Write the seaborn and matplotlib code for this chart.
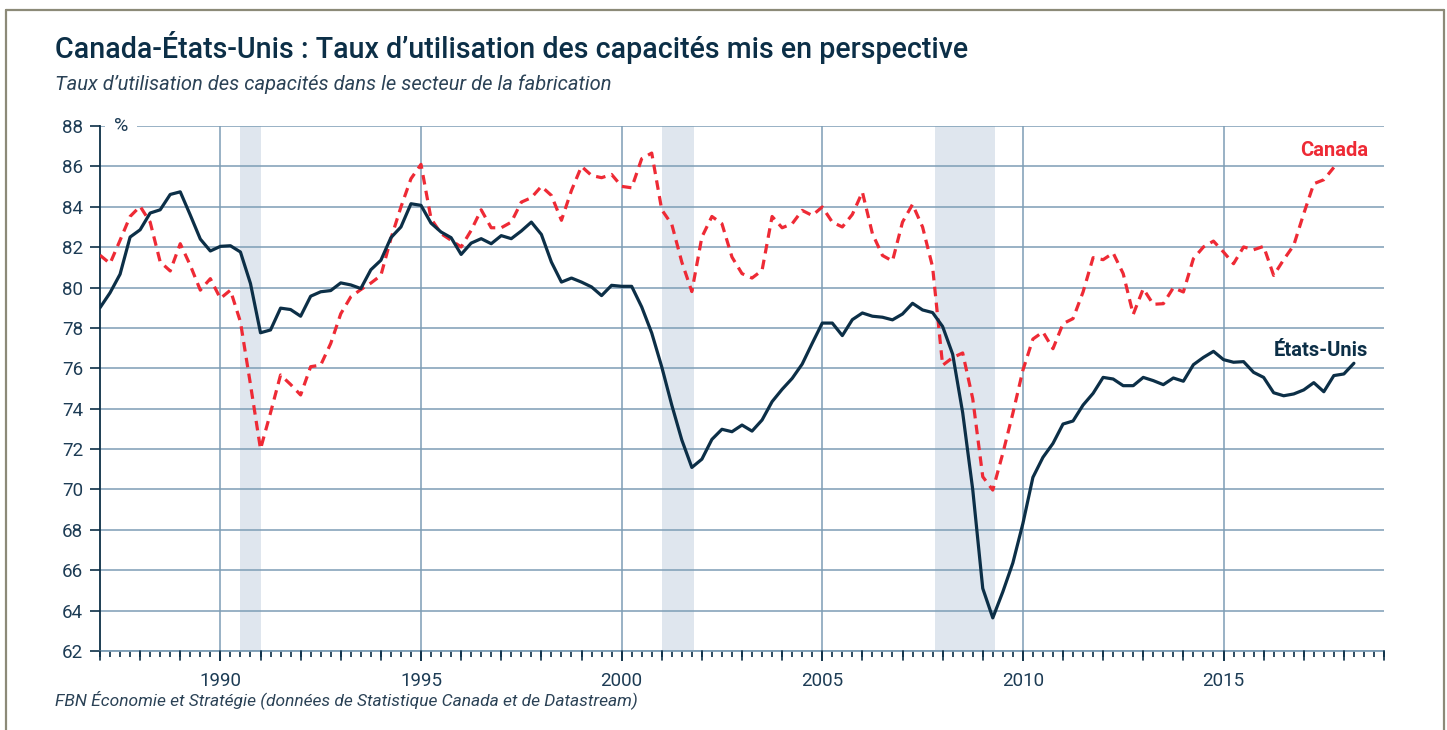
import numpy as np
import pandas as pd
import seaborn as sns
import matplotlib.pyplot as plt

# Quarterly data, first quarter 1987
start_year = 1987
us_values = [79.0, 79.74, 80.66, 82.5, 82.86, 83.69, 83.85, 84.61, 84.74, 83.59,
             82.4, 81.81, 82.04, 82.07, 81.76, 80.2, 77.76, 77.9, 78.98, 78.91,
             78.58, 79.57, 79.79, 79.85, 80.23, 80.13, 79.95, 80.88, 81.35, 82.47,
             83.0, 84.15, 84.07, 83.19, 82.75, 82.47, 81.64, 82.2, 82.42, 82.17,
             82.57, 82.42, 82.8, 83.24, 82.63, 81.26, 80.27, 80.47, 80.27, 80.03,
             79.6, 80.11, 80.06, 80.06, 79.04, 77.75, 76.07, 74.18, 72.45, 71.09,
             71.5, 72.48, 72.98, 72.86, 73.19, 72.89, 73.44, 74.35, 74.96, 75.5,
             76.21, 77.24, 78.24, 78.24, 77.62, 78.41, 78.74, 78.58, 78.53, 78.4,
             78.69, 79.22, 78.89, 78.76, 78.07, 76.7, 73.8, 70.0, 65.1, 63.64,
             64.93, 66.36, 68.31, 70.6, 71.59, 72.28, 73.24, 73.39, 74.18, 74.76,
             75.55, 75.47, 75.14, 75.14, 75.55, 75.39, 75.19, 75.52, 75.36, 76.18,
             76.54, 76.84, 76.43, 76.3, 76.33, 75.8, 75.55, 74.79, 74.64, 74.73,
             74.93, 75.29, 74.84, 75.64, 75.72, 76.25]
canada_values = [81.6, 81.19, 82.34, 83.52, 84.02, 83.24, 81.27, 80.82, 82.17, 81.1,
                 79.87, 80.44, 79.46, 79.87, 78.3, 75.2, 72.0, 73.8, 75.67, 75.2,
                 74.68, 76.08, 76.16, 77.23, 78.7, 79.54, 79.9, 80.22, 80.6, 82.42,
                 83.99, 85.39, 86.1, 83.41, 82.67, 82.34, 82.01, 82.83, 83.85, 82.96,
                 82.96, 83.24, 84.23, 84.45, 85.01, 84.56, 83.33, 84.81, 86.0, 85.55,
                 85.44, 85.6, 85.01, 84.94, 86.38, 86.66, 83.85, 83.13, 81.26, 79.8,
                 82.5, 83.52, 83.16, 81.51, 80.69, 80.47, 80.85, 83.52, 82.96, 83.16,
                 83.82, 83.57, 83.99, 83.24, 83.0, 83.62, 84.73, 82.67, 81.59, 81.31,
                 83.24, 84.12, 83.0, 81.02, 76.15, 76.53, 76.76, 74.5, 70.63, 69.97,
                 71.79, 73.77, 75.9, 77.45, 77.8, 76.97, 78.21, 78.46, 79.78, 81.48,
                 81.38, 81.71, 80.69, 78.67, 79.94, 79.17, 79.2, 79.99, 79.78, 81.43,
                 82.01, 82.3, 81.76, 81.18, 82.01, 81.87, 82.04, 80.6, 81.38, 82.09,
                 83.66, 85.14, 85.34, 85.95]
recessions = [(1990.5, 1991.0), (2001.0, 2001.8), (2007.8, 2009.3)]
y_ticks = list(range(62, 89, 2))
x_labels = [1990, 1995, 2000, 2005, 2010, 2015]

us = pd.DataFrame({"date": start_year + np.arange(len(us_values)) / 4, "rate": us_values})
ca = pd.DataFrame({"date": start_year + np.arange(len(canada_values)) / 4, "rate": canada_values})

navy = "#0c2f47"
red = "#ee2a35"
grid_col = "#7d9db5"
text_col = "#1d3c55"

sns.set_style("white")
plt.rcParams["font.family"] = ["Roboto", "DejaVu Sans"]

fig = plt.figure(figsize=(14.47, 7.3), dpi=100)
ax = fig.add_axes([100 / 1447, 79 / 730, 1284 / 1447, 525 / 730])

for a, b in recessions:
    ax.axvspan(a, b, color="#dfe6ee", lw=0, zorder=0)

sns.lineplot(data=ca, x="date", y="rate", ax=ax, color=red, lw=2.3,
             dashes=False, zorder=3).lines[-1].set_dashes([3.0, 2.0])
sns.lineplot(data=us, x="date", y="rate", ax=ax, color=navy, lw=2.3, zorder=4)

ax.set_xlim(1987, 2019)
ax.set_ylim(62, 88)
ax.set_yticks(y_ticks)
ax.set_xticks(x_labels)
ax.set_xlabel("")
ax.set_ylabel("")

ax.grid(axis="both", which="major", color=grid_col, lw=1.1)
ax.set_axisbelow(True)

for s in ["top", "right"]:
    ax.spines[s].set_visible(False)
ax.spines["left"].set_color(navy)
ax.spines["left"].set_linewidth(1.3)
ax.spines["bottom"].set_color(grid_col)
ax.spines["bottom"].set_linewidth(1.3)

ax.tick_params(axis="y", left=True, length=7, width=1.2, color=navy,
               labelsize=13.5, labelcolor=text_col, pad=5)
ax.tick_params(axis="x", which="major", bottom=True, length=7, width=1.2,
               color=navy, labelsize=13.5, labelcolor=text_col, pad=8)
# quarterly ticks, shorter
ax.set_xticks(np.arange(1987, 2019.01, 0.25), minor=True)
ax.tick_params(axis="x", which="minor", bottom=True, length=4, width=1.2, color=navy)
# year ticks drawn a bit longer
for yr in range(1987, 2020):
    ax.plot([yr, yr], [0, -0.018], transform=ax.get_xaxis_transform(),
            color=navy, lw=1.2, clip_on=False, zorder=5)

# "%" unit label sits in a gap of the top gridline (below the spine)
ax.text(0.011, 1.0, "%", transform=ax.transAxes, ha="left", va="center",
        fontsize=14, color=text_col, zorder=2,
        bbox=dict(facecolor="white", edgecolor="none", boxstyle="square,pad=0.45"))

ax.text(2018.6, 86.78, "Canada", color=red, fontsize=14.5, fontweight="bold",
        ha="right", va="center")
ax.text(2018.6, 76.86, "États-Unis", color=navy, fontsize=14.5, fontweight="bold",
        ha="right", va="center")

fig.text(55 / 1447, 1 - 58 / 730,
         "Canada-États-Unis : Taux d’utilisation des capacités mis en perspective",
         fontsize=20.6, fontweight="medium", color=navy, va="baseline", ha="left")
fig.text(55 / 1447, 1 - 90 / 730,
         "Taux d’utilisation des capacités dans le secteur de la fabrication",
         fontsize=14.5, style="italic", color="#2b4256", va="baseline", ha="left")
fig.text(55 / 1447, 1 - 705 / 730,
         "FBN Économie et Stratégie (données de Statistique Canada et de Datastream)",
         fontsize=12.5, style="italic", color="#2b4256", va="baseline", ha="left")

# outer frame
border = "#8c8a78"
fig.add_artist(plt.Line2D([6 / 1447, 6 / 1447], [0, 1 - 10 / 730], color=border, lw=1.6))
fig.add_artist(plt.Line2D([6 / 1447, 1444 / 1447], [1 - 10 / 730, 1 - 10 / 730], color=border, lw=1.6))
fig.add_artist(plt.Line2D([1444 / 1447, 1444 / 1447], [0, 1 - 10 / 730], color=border, lw=1.6))

fig.savefig("out.png", dpi=100)
